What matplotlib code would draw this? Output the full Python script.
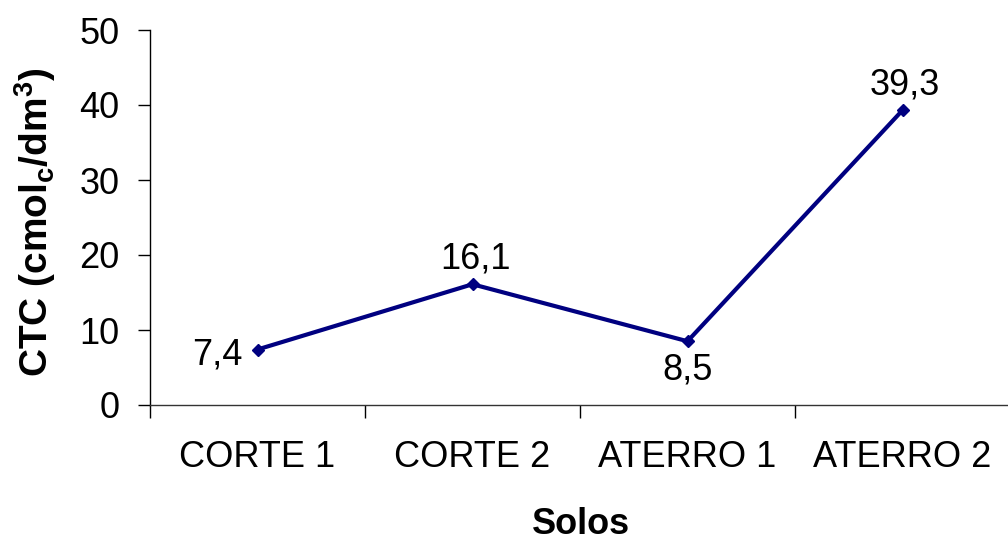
import matplotlib.pyplot as plt

plt.rcParams['font.family'] = ['Liberation Sans', 'DejaVu Sans']
plt.rcParams['mathtext.fontset'] = 'custom'
plt.rcParams['mathtext.rm'] = 'Liberation Sans'
plt.rcParams['mathtext.bf'] = 'Liberation Sans:bold'

solos = ['CORTE 1', 'CORTE 2', 'ATERRO 1', 'ATERRO 2']
ctc = [7.4, 16.1, 8.5, 39.3]
label_pos = ['left', 'above', 'below', 'above']  # where each value label sits

navy = '#000080'
fs = 26

fig = plt.figure(figsize=(10.08, 5.42), dpi=100)
ax = fig.add_axes([150 / 1008, 1 - 405 / 542, 860 / 1008, 375 / 542])

x = list(range(1, len(solos) + 1))
ax.plot(x, ctc, color=navy, lw=3.0, marker='D', ms=6.5, mec=navy, mfc=navy,
        solid_joinstyle='miter', clip_on=False)

for xi, v, pos in zip(x, ctc, label_pos):
    txt = f'{v:.1f}'.replace('.', ',')
    if pos == 'left':
        ax.annotate(txt, (xi, v), xytext=(-11, -4), textcoords='offset points',
                    ha='right', va='center', fontsize=fs)
    elif pos == 'above':
        ax.annotate(txt, (xi, v), xytext=(2, 11), textcoords='offset points',
                    ha='center', va='baseline', fontsize=fs)
    else:
        ax.annotate(txt, (xi, v), xytext=(0, -8), textcoords='offset points',
                    ha='center', va='top', fontsize=fs)

ax.set_ylim(0, 50)
ax.set_yticks(range(0, 51, 10))
ax.set_xlim(0.5, len(solos) + 0.5)

# ticks on category boundaries, labels on category centres
ax.set_xticks([i + 0.5 for i in range(len(solos) + 1)])
ax.set_xticklabels([])
ax.set_xticks(x, minor=True)
ax.set_xticklabels(solos, minor=True, fontsize=fs)
ax.tick_params(axis='x', which='major', direction='out', length=9, width=1)
ax.tick_params(axis='x', which='minor', length=0, pad=25)
ax.tick_params(axis='y', direction='out', length=9, width=1, pad=13, labelsize=fs)

for s in ['top', 'right']:
    ax.spines[s].set_visible(False)
ax.spines['left'].set_linewidth(1)
ax.spines['bottom'].set_linewidth(1)
ax.spines['bottom'].set_color('#333333')

fig.text(35 / 1008, 1 - 222 / 542, r'CTC (cmol$_\mathbf{c}$/dm$^\mathbf{3}$)',
         rotation=90, ha='center', va='center', fontsize=28, fontweight='bold')
fig.text(581 / 1008, 1 - 524 / 542, 'Solos', ha='center', va='center',
         fontsize=fs, fontweight='bold')

fig.savefig('out.png', dpi=100)
